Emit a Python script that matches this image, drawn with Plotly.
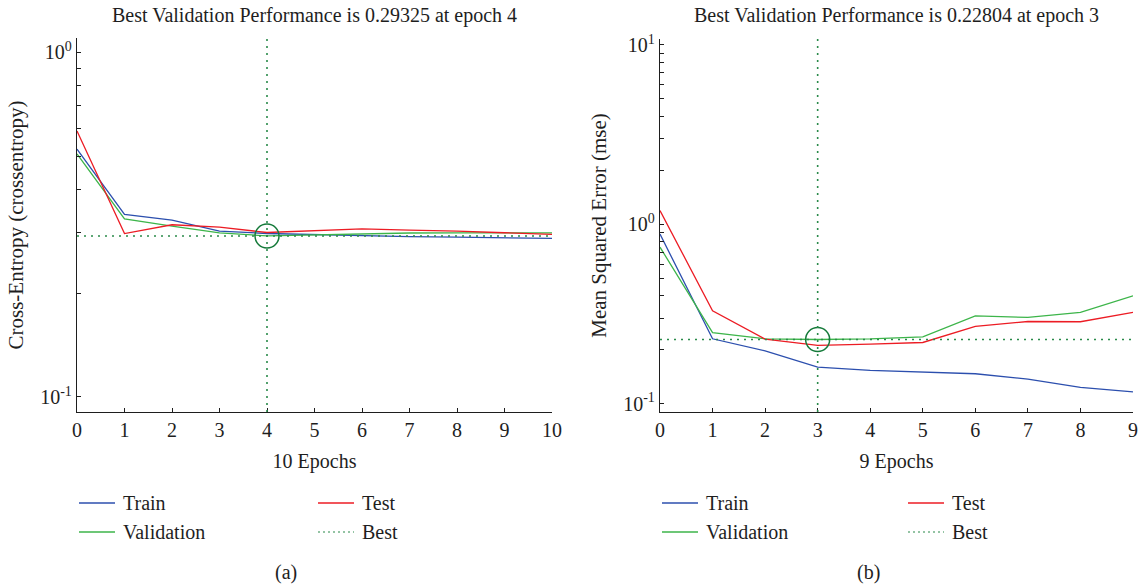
import plotly.graph_objects as go
import numpy as np

# ---------------- data ----------------
# (a) cross-entropy per epoch
epochs_a = [0, 1, 2, 3, 4, 5, 6, 7, 8, 9, 10]
train_a = [0.524, 0.3385, 0.326, 0.3029, 0.298, 0.296, 0.2934, 0.292, 0.291, 0.290, 0.2884]
valid_a = [0.507, 0.3287, 0.313, 0.2994, 0.29325, 0.2955, 0.298, 0.2990, 0.2992, 0.2994, 0.2994]
test_a = [0.591, 0.298, 0.316, 0.311, 0.300, 0.3035, 0.3075, 0.305, 0.303, 0.2995, 0.2962]
best_epoch_a = 4
best_value_a = 0.29325

# (b) mean squared error per epoch
epochs_b = [0, 1, 2, 3, 4, 5, 6, 7, 8, 9]
train_b = [0.882, 0.2302, 0.197, 0.160, 0.1533, 0.150, 0.147, 0.1372, 0.1233, 0.1166]
valid_b = [0.746, 0.2490, 0.2302, 0.22804, 0.2302, 0.2362, 0.309, 0.3027, 0.3227, 0.3996]
test_b = [1.194, 0.3297, 0.229, 0.2113, 0.215, 0.2195, 0.2696, 0.2873, 0.2864, 0.3227]
best_epoch_b = 3
best_value_b = 0.22804

# tick labels
major_a = [0.1, 1]
major_b = [0.1, 1, 10]
major_text = {0.1: "10<sup>-1</sup>", 1: "10<sup>0</sup>", 10: "10<sup>1</sup>"}

titles = ["Best Validation Performance is 0.29325 at epoch 4",
          "Best Validation Performance is 0.22804 at epoch 3"]
ytitles = ["Cross-Entropy (crossentropy)", "Mean Squared Error (mse)"]
xtitles = ["10 Epochs", "9 Epochs"]
panel_labels = ["(a)", "(b)"]
legend_names = ["Train", "Test", "Validation", "Best"]

# ---------------- style ----------------
W, H = 1143, 586
FONT = "Liberation Serif"
INK = "#1e1e1e"
C_TRAIN = "#2c4fae"
C_TEST = "#ec1c24"
C_VALID = "#3db54a"
C_BEST = "#2a8a4a"
C_CIRCLE = "#157a3a"
LW = 1.3
DOT = "2px,5px"


def px_x(p):
    return p / W


def px_y(p):
    return 1 - p / H


def minor_ticks(major, lo, hi):
    vals = []
    for m in major + [major[0] / 10]:
        for k in range(2, 10):
            v = m * k
            if lo <= np.log10(v) <= hi:
                vals.append(v)
    return sorted(vals)


panels = [
    dict(ep=epochs_a, tr=train_a, va=valid_a, te=test_a, be=best_epoch_a, bv=best_value_a,
         major=major_a, yr=[-1.0436, 0.0415], xd=[77, 552], yd=[38, 412]),
    dict(ep=epochs_b, tr=train_b, va=valid_b, te=test_b, be=best_epoch_b, bv=best_value_b,
         major=major_b, yr=[-1.046, 1.033], xd=[660, 1133], yd=[39, 412]),
]

fig = go.Figure()
shapes, annotations = [], []

for i, p in enumerate(panels):
    xa = "x" if i == 0 else "x2"
    ya = "y" if i == 0 else "y2"
    xkey = "xaxis" if i == 0 else "xaxis2"
    ykey = "yaxis" if i == 0 else "yaxis2"

    for ys, col in [(p["tr"], C_TRAIN), (p["va"], C_VALID), (p["te"], C_TEST)]:
        fig.add_trace(go.Scatter(x=p["ep"], y=ys, mode="lines", xaxis=xa, yaxis=ya,
                                 line=dict(color=col, width=LW), showlegend=False,
                                 hoverinfo="skip"))

    # best-epoch guides
    fig.add_trace(go.Scatter(x=[p["ep"][0], p["ep"][-1]], y=[p["bv"], p["bv"]], mode="lines",
                             xaxis=xa, yaxis=ya, showlegend=False,
                             line=dict(color=C_BEST, width=1.6, dash=DOT)))
    shapes.append(dict(type="line", xref=xa, yref=f"{ya} domain", x0=p["be"], x1=p["be"],
                       y0=0, y1=1, line=dict(color=C_BEST, width=1.6, dash=DOT)))
    fig.add_trace(go.Scatter(x=[p["be"]], y=[p["bv"]], mode="markers", xaxis=xa, yaxis=ya,
                             showlegend=False,
                             marker=dict(symbol="circle-open", size=24,
                                         line=dict(color=C_CIRCLE, width=1.5),
                                         color=C_CIRCLE)))

    fig.layout[xkey] = dict(
        domain=[px_x(p["xd"][0]), px_x(p["xd"][1])], range=[p["ep"][0], p["ep"][-1]],
        anchor=ya, tickmode="array", tickvals=p["ep"], ticks="inside", ticklen=4,
        tickcolor=INK, showline=True, linecolor=INK, linewidth=1.4, mirror=False,
        showgrid=False, zeroline=False, automargin=False,
        tickfont=dict(family=FONT, size=20, color=INK),
        title=dict(text=xtitles[i], font=dict(family=FONT, size=20, color=INK), standoff=13))
    fig.layout[ykey] = dict(
        domain=[px_y(p["yd"][1]), px_y(p["yd"][0])], type="log", range=p["yr"],
        anchor=xa, tickmode="array", tickvals=p["major"],
        ticktext=[major_text[m] for m in p["major"]], ticks="inside", ticklen=4,
        tickcolor=INK, showline=True, linecolor=INK, linewidth=1.4, mirror=False,
        showgrid=False, zeroline=False, automargin=False,
        minor=dict(tickmode="array", tickvals=minor_ticks(p["major"], *p["yr"]),
                   ticks="inside", ticklen=4, tickcolor=INK, showgrid=False),
        tickfont=dict(family=FONT, size=20, color=INK),
        title=dict(text=ytitles[i], font=dict(family=FONT, size=21, color=INK), standoff=10))

    cx = (p["xd"][0] + p["xd"][1]) / 2
    annotations.append(dict(text=titles[i], x=px_x(cx), y=px_y(15), xref="paper", yref="paper",
                            showarrow=False, xanchor="center", yanchor="middle",
                            font=dict(family=FONT, size=20, color=INK)))
    annotations.append(dict(text=panel_labels[i], x=px_x([286, 868][i]), y=px_y(572),
                            xref="paper", yref="paper", showarrow=False,
                            xanchor="center", yanchor="middle",
                            font=dict(family=FONT, size=20, color=INK)))

    # legend block
    col_x = [[79, 318], [662, 908]][i]
    row_y = [503, 532]
    entries = [(legend_names[0], C_TRAIN, "solid"), (legend_names[1], C_TEST, "solid"),
               (legend_names[2], C_VALID, "solid"), (legend_names[3], C_BEST, "2px,3px")]
    for k, (name, col, dash) in enumerate(entries):
        lx = col_x[k % 2]
        ly = row_y[k // 2]
        shapes.append(dict(type="line", xref="paper", yref="paper",
                           x0=px_x(lx), x1=px_x(lx + 36), y0=px_y(ly), y1=px_y(ly),
                           line=dict(color=col, width=1.6 if dash == "solid" else 1.2,
                                     dash=dash)))
        annotations.append(dict(text=name, x=px_x(lx + 42), y=px_y(ly), xref="paper",
                                yref="paper", showarrow=False, xanchor="left",
                                yanchor="middle",
                                font=dict(family=FONT, size=20, color=INK)))

fig.update_layout(width=W, height=H, margin=dict(l=0, r=0, t=0, b=0),
                  paper_bgcolor="white", plot_bgcolor="white", showlegend=False,
                  shapes=shapes, annotations=annotations)

fig.write_html("out.html")
